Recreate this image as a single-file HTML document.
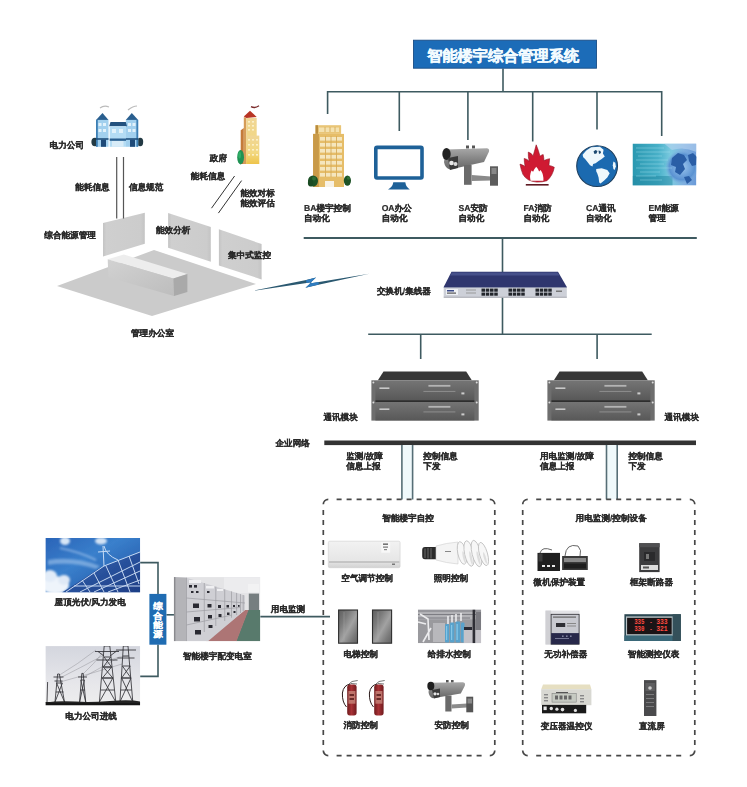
<!DOCTYPE html>
<html><head><meta charset="utf-8">
<style>
html,body{margin:0;padding:0;background:#fff;width:747px;height:787px;overflow:hidden}
svg{display:block;position:absolute;left:0;top:0}
text{font-family:"Liberation Sans",sans-serif;font-size:8.6px;fill:#2a2a2a;font-weight:bold;dominant-baseline:central;text-rendering:geometricPrecision}
#labels text{stroke:#2a2a2a;stroke-width:0.2px}
text.vt{font-size:8.7px;fill:#fff;stroke:#fff;stroke-width:0.25px}
text.title{font-size:15.2px;fill:#f2fbff;stroke:#f2fbff;stroke-width:0.35px}
text.dig{font-family:"Liberation Mono",monospace;font-size:7.6px;fill:#ff4a40}
</style></head><body>
<svg width="747" height="787" viewBox="0 0 747 787">
<!-- ===== LINES ===== -->
<g id="lines" stroke="#3e5a60" stroke-width="1.6" fill="none">
  <!-- title stem -->
  <path d="M503 68.5V91.8"/>
  <!-- top horizontal -->
  <path d="M327.6 91.8H662"/>
  <path d="M327.6 91V114M399.3 91V131M467.9 91V140M532.7 91V141.6M597 91V129.5M661.7 91V136"/>
  <!-- line under icons -->
  <path d="M303.7 238H696.8" stroke-width="2"/>
  <path d="M502.5 238V272M502.5 297.5V334.2"/>
  <path d="M368.2 334.2H651.7"/>
  <path d="M420.7 334.2V359M597.1 334.2V359"/>
</g>
<!-- ===== OFFICE SCENE ===== -->
<defs>
  <filter id="ftext" x="-2%" y="-2%" width="104%" height="104%"><feGaussianBlur stdDeviation="0.25"/></filter>
  <linearGradient id="gpanel" x1="0" y1="0" x2="1" y2="0">
    <stop offset="0" stop-color="#c4c4c4"/><stop offset="0.08" stop-color="#cfcfcf"/><stop offset="0.9" stop-color="#cccccc"/><stop offset="1" stop-color="#c4c4c4"/>
  </linearGradient>
  <linearGradient id="gfront" x1="0" y1="0" x2="1" y2="1">
    <stop offset="0" stop-color="#d2d2d2"/><stop offset="1" stop-color="#bdbdbd"/>
  </linearGradient>
</defs>
<g id="office">
  <polygon points="57,286 107.7,267.2 154,250 256,284 152,316" fill="#cbcbcb"/>
  <!-- white gap strip behind floor on right -->
  <polygon points="103,223 144.8,212.8 144.8,243.8 103,256.5" fill="url(#gpanel)"/>
  <polygon points="168.1,213.1 210.8,227.1 210.8,261.7 168.1,247.7" fill="url(#gpanel)"/>
  <polygon points="218.9,229.3 261.6,244 261.6,279.4 218.9,265.4" fill="url(#gpanel)"/>
  <!-- desk -->
  <polygon points="107.7,259.2 123.8,254.5 187.4,274 173.3,278.4" fill="#ededed"/>
  <polygon points="107.7,259.2 173.3,278.4 174,296 108.4,277.3" fill="url(#gfront)"/>
  <polygon points="173.3,278.4 187.4,274 187.4,292 174,296" fill="#a9a9a9"/>
  <!-- double lines -->
  <path d="M116.7 157V218.5M123.5 157V218.5" stroke="#555" stroke-width="1.2"/>
  <path d="M234.6 176L211.5 208.2M241.6 180.6L218.4 213.1" stroke="#333" stroke-width="1"/>
  <!-- lightning -->
  <path d="M253 290.8L305 280.3L316 277.5L309.5 283.6L319 281.9L369.3 273.8L319.5 284.6L305.5 287.8L311.5 282.2L305 283.2Z" fill="#2a5870"/>
  <path d="M306 280.2L316 277.5L309.8 283.5L318.5 282.1L318.8 284.6L305.5 287.8L311.8 282.1L306.5 283.1Z" fill="#2f7cc0"/>
</g>
<!-- ===== POWER COMPANY BUILDING ===== -->
<g id="powerco">
  <path d="M100 108q4-3 9-1M128 110q5-4 9-4" stroke="#bbb" stroke-width="1.2" fill="none"/>
  <!-- trees -->
  <ellipse cx="95" cy="142" rx="3.6" ry="4.2" fill="#233a44"/>
  <ellipse cx="140.2" cy="142" rx="3" ry="4.2" fill="#233a44"/>
  <!-- left tower -->
  <polygon points="96,120 102.5,113 108.5,120" fill="#2a5f8f"/>
  <rect x="96" y="119.9" width="12.5" height="26.9" fill="#a2d0ee"/>
  <rect x="96" y="119.9" width="1.8" height="26.9" fill="#3d7fb4"/>
  <rect x="98.5" y="123" width="3" height="3" fill="#e2f2fb"/><rect x="103" y="123" width="3" height="3" fill="#e2f2fb"/>
  <rect x="98.5" y="129" width="3" height="3" fill="#e2f2fb"/><rect x="103" y="129" width="3" height="3" fill="#e2f2fb"/>
  <rect x="96" y="138.2" width="12.5" height="1.6" fill="#1f4f7c"/>
  <rect x="101" y="139.6" width="5" height="7.2" fill="#1e4a78"/>
  <!-- right tower -->
  <polygon points="125.8,120 131.8,113 138.2,120" fill="#2a5f8f"/>
  <rect x="125.8" y="119.9" width="12.4" height="26.9" fill="#a2d0ee"/>
  <rect x="136.4" y="119.9" width="1.8" height="26.9" fill="#3d7fb4"/>
  <rect x="128" y="123" width="3" height="3" fill="#e2f2fb"/><rect x="132.5" y="123" width="3" height="3" fill="#e2f2fb"/>
  <rect x="128" y="129" width="3" height="3" fill="#e2f2fb"/><rect x="132.5" y="129" width="3" height="3" fill="#e2f2fb"/>
  <rect x="125.8" y="138.2" width="12.4" height="1.6" fill="#1f4f7c"/>
  <rect x="130" y="139.6" width="5" height="7.2" fill="#1e4a78"/>
  <!-- center block -->
  <polygon points="110.5,121.9 125.8,121.9 127,126.3 109.2,126.3" fill="#23527f"/>
  <rect x="109.7" y="126.3" width="16.3" height="20.5" fill="#b4dcf4"/>
  <rect x="112" y="129" width="4" height="4" fill="#e2f2fb"/><rect x="119" y="129" width="4" height="4" fill="#e2f2fb"/>
  <rect x="109.7" y="138.5" width="16.3" height="2.3" fill="#2a5f8f"/>
  <rect x="112" y="141" width="11.5" height="5.8" fill="#d8ecf8"/>
</g>
<!-- ===== GOV BUILDING ===== -->
<defs><linearGradient id="ggov" x1="0" y1="0" x2="0" y2="1"><stop offset="0" stop-color="#f0d696"/><stop offset="0.6" stop-color="#f2d880"/><stop offset="1" stop-color="#eec44a"/></linearGradient></defs>
<g id="gov">
  <path d="M251 106.6q4 2 8-0.8" stroke="#7a2a2a" stroke-width="1.4" fill="none"/>
  <polygon points="240.7,130.2 243.8,128 243.8,164 240.7,164" fill="#c47a3a"/>
  <polygon points="243.8,117 246.4,118 246.4,164 243.8,164" fill="#d59c58"/>
  <rect x="246.4" y="117.8" width="10.3" height="46.2" fill="url(#ggov)"/>
  <rect x="246.4" y="135.6" width="12.9" height="28.4" fill="url(#ggov)"/>
  <polygon points="243.8,116.4 250,110.7 256.7,116.9 246.4,118" fill="#b83424"/>
  <g fill="#fbf0c8">
    <rect x="248" y="121" width="2" height="1.6"/><rect x="252" y="121" width="2" height="1.6"/>
    <rect x="248" y="125" width="2" height="1.6"/><rect x="252" y="125" width="2" height="1.6"/>
    <rect x="248" y="129" width="2" height="1.6"/><rect x="252" y="129" width="2" height="1.6"/>
    <rect x="248" y="139" width="2" height="1.6"/><rect x="252" y="139" width="2" height="1.6"/><rect x="256" y="139" width="2" height="1.6"/>
    <rect x="248" y="144" width="2" height="1.6"/><rect x="252" y="144" width="2" height="1.6"/><rect x="256" y="144" width="2" height="1.6"/>
    <rect x="248" y="149" width="2" height="1.6"/><rect x="252" y="149" width="2" height="1.6"/><rect x="256" y="149" width="2" height="1.6"/>
    <rect x="248" y="154" width="2" height="1.6"/><rect x="252" y="154" width="2" height="1.6"/><rect x="256" y="154" width="2" height="1.6"/>
  </g>
  <ellipse cx="240.6" cy="157.2" rx="3.4" ry="7.2" fill="#1f9253"/>
  <ellipse cx="239.6" cy="155" rx="1.4" ry="3.5" fill="#2fae66"/>
</g>
<!-- ===== BA BUILDING ===== -->
<g id="ba">
  <rect x="315.5" y="125.2" width="25.6" height="8.7" fill="#e9c576"/>
  <rect x="315.5" y="125.2" width="2.5" height="8.7" fill="#b98c3e"/>
  <rect x="319" y="127.5" width="20" height="4.5" fill="#f4e2b0"/>
  <rect x="313.1" y="133.9" width="30.9" height="53.1" fill="#e6bd68"/>
  <rect x="313.1" y="133.9" width="5.8" height="53.1" fill="#c99a48"/>
  <g fill="#f5e6be">
    <rect x="320" y="137" width="22" height="3.6"/>
    <rect x="320" y="143" width="22" height="3.6"/>
    <rect x="320" y="149" width="22" height="3.6"/>
    <rect x="320" y="155" width="22" height="3.6"/>
    <rect x="320" y="161" width="22" height="3.6"/>
    <rect x="320" y="167" width="22" height="3.6"/>
    <rect x="320" y="173" width="22" height="3.6"/>
  </g>
  <path d="M325.5 136V177M331 136V177M336.5 136V177M325 127V132M330 127V132M335 127V132" stroke="#d6ac5a" stroke-width="0.9"/>
  <rect x="325" y="181" width="9" height="6" fill="#f8f2e4"/>
  <ellipse cx="313" cy="181" rx="5" ry="5.6" fill="#1d5226"/>
  <ellipse cx="310.5" cy="183" rx="2.6" ry="3.4" fill="#1a4a22"/>
  <ellipse cx="314" cy="178.5" rx="2" ry="2" fill="#2e6e34"/>
  <ellipse cx="347.4" cy="180.6" rx="3.6" ry="5.2" fill="#1d5226"/>
  <ellipse cx="348.5" cy="178" rx="1.6" ry="1.8" fill="#2e6e34"/>
</g>
<!-- ===== OA MONITOR ===== -->
<g id="oa">
  <rect x="375.8" y="147.4" width="46.2" height="30.6" rx="1.2" fill="#fff" stroke="#1e6198" stroke-width="3.6"/>
  <path d="M393.3 182.2H405.3Q406 187 409.8 189.4H388Q392.6 187 393.3 182.2Z" fill="#1e6198"/>
</g>
<!-- ===== SA CAMERA ===== -->
<defs>
  <linearGradient id="gcam" x1="0" y1="0" x2="0" y2="1">
    <stop offset="0" stop-color="#a8a8a8"/><stop offset="0.5" stop-color="#858585"/><stop offset="1" stop-color="#666"/>
  </linearGradient>
</defs>
<g id="sa">
  <rect x="466" y="145.5" width="3" height="3" fill="#555"/><rect x="472" y="145.5" width="3" height="3" fill="#555"/>
  <path d="M446 149.5L487 148.2Q490 149 488.8 152L484 162L450 169.5Q445 168 444 162Z" fill="url(#gcam)"/>
  <ellipse cx="446.5" cy="154" rx="4.2" ry="6" fill="#222"/>
  <path d="M448 158L458 156L458 168L450 170Z" fill="#3a3a3a"/>
  <circle cx="451.5" cy="163" r="2.3" fill="#e8e8e8"/><circle cx="455.5" cy="164" r="2" fill="#dcdcdc"/>
  <rect x="464" y="165" width="7.6" height="19.8" fill="#6a6a6a"/>
  <polygon points="471.6,175 491,176.5 491,180.5 471.6,181" fill="#8a8a8a"/>
  <rect x="490" y="166.3" width="8" height="19.4" fill="#5c5c5c"/>
  <rect x="491.5" y="168" width="5" height="6" fill="#888"/>
</g>
<!-- ===== FA FLAME ===== -->
<g id="fa">
  <path d="M536.9 182.1Q526.7 181.3 522.9 174.3Q521.0 169.9 520.0 164.1Q522.9 165.1 525.1 166.4Q524.2 162.2 524.2 158.4Q527.3 159.1 529.2 161.3Q528.0 156.5 528.3 152.1Q531.8 153.3 533.1 155.9Q535.0 149.5 536.2 144.8Q538.5 150.2 540.0 156.2Q542.0 154.6 543.2 154.6Q543.9 157.8 543.9 160.6Q547.0 159.1 549.6 158.7Q549.3 162.2 548.9 165.4Q552.1 166.0 554.3 167.3Q552.8 175.6 547.0 180.7Q542.6 182.2 536.9 182.1Z" fill="#cf1a32" stroke="#8e1424" stroke-width="0.6"/>
  <path d="M530.6 180.8Q529.2 175.6 531.5 170.5L533.1 171.8Q534.3 168.6 536.2 166.7Q538.1 168.6 539.1 171.4L540.7 169.9Q543.9 174.9 543.4 180.8Z" fill="#fff"/>
  <rect x="525.8" y="184" width="22.8" height="1.6" fill="#5e1a22"/>
</g>
<!-- ===== CA GLOBE ===== -->
<g id="ca">
  <circle cx="597.1" cy="166.1" r="20.4" fill="#1b6ab0" stroke="#1d3f5f" stroke-width="1.1"/>
  <path d="M582.6 154.7L586.3 150.4L591.2 147.3L599.9 146.7L603.6 149.8L602.9 153.5L604.8 156.5L601.7 159L598.6 160.9L595.6 163.3L593.1 163.9L592.5 166.4L590 165.2L587.5 162.1L585.1 159L583.2 157.2Z" fill="#eef8fc"/>
  <path d="M593.5 151.5l2-1.5 2 1 -1 2.5 -2 .5zM598.5 150.5l2 .5 .5 2 -2 1z" fill="#1d4a70"/>
  <path d="M596.2 168.9L601.7 168.2L607.3 170.1L609.7 173.2L607.3 177.5L604.2 180.6L600.5 183.6L599.2 182.4L598.6 177.5L597.4 173.8L596.2 171.3Z" fill="#eef8fc"/>
  <path d="M613.4 161.5L615.3 162.7L615.9 166.4L614.6 170.1L613.4 168.9L612.8 165.2Z" fill="#eef8fc"/>
</g>
<!-- ===== EM IMAGE ===== -->
<defs>
  <linearGradient id="gem" x1="0" y1="0" x2="1" y2="0">
    <stop offset="0" stop-color="#2a98b0"/><stop offset="0.4" stop-color="#48b0c8"/><stop offset="0.6" stop-color="#7ccae0"/><stop offset="0.8" stop-color="#80b0e0"/><stop offset="1" stop-color="#6a9ad8"/>
  </linearGradient>
  <radialGradient id="gemglobe" cx="0.5" cy="0.5" r="0.5">
    <stop offset="0" stop-color="#9cc6ee"/><stop offset="0.75" stop-color="#5a92d2"/><stop offset="1" stop-color="#7aaede" stop-opacity="0"/>
  </radialGradient>
</defs>
<g id="em">
  <defs><clipPath id="cpem"><rect x="632.5" y="143.5" width="63.9" height="42.1"/></clipPath></defs>
  <g clip-path="url(#cpem)">
  <rect x="632.5" y="143.5" width="63.9" height="42.1" fill="url(#gem)"/>
  <rect x="632.5" y="176" width="40" height="9.6" fill="#1f86a0" opacity="0.5"/>
  <circle cx="682" cy="167" r="17" fill="url(#gemglobe)"/>
  <path d="M672 158l6-5 6 2 3 5-4 4 2 5-5 6-5-3 1-5-5-2zM688 155l5-2 4 4-1 8-4 1-3-5zM684 177l5-1 3 4-5 4z" fill="#2a5ea6"/>
  <g stroke="#a8e2ee" stroke-width="0.9" opacity="0.45">
    <path d="M636 148H664M636 152H670M638 156H662M636 160H668M640 164H664M636 168H672M640 172H660M636 176H656M640 180H662"/>
  </g>
  <path d="M664 143.5L696.4 143.5L696.4 152Q684 146 672 150Z" fill="#b8d4f0" opacity="0.6"/>
  </g>
</g>
<!-- ===== SWITCH ===== -->
<g id="switch">
  <polygon points="451.5,271.8 558,271.8 566.8,287 443.7,287" fill="#2f366e"/>
  <polygon points="452,272.4 557.5,272.4 559.5,275.5 450,275.5" fill="#46508a"/>
  <rect x="443.7" y="287" width="123.1" height="10.5" fill="#cdd0d8"/>
  <rect x="443.7" y="287" width="123.1" height="0.8" fill="#7a80a0"/>
  <rect x="443.7" y="296.8" width="123.1" height="0.8" fill="#9a9ca4"/>
  <rect x="446" y="289" width="12" height="6" fill="#eef0f4"/>
  <rect x="447" y="290" width="7" height="1.5" fill="#3a4a8a"/><rect x="447" y="292.5" width="9" height="1.2" fill="#555"/>
  <g fill="#23262c"><rect x="481.50" y="288.6" width="3.5" height="3.1"/><rect x="485.75" y="288.6" width="3.5" height="3.1"/><rect x="490.00" y="288.6" width="3.5" height="3.1"/><rect x="494.25" y="288.6" width="3.5" height="3.1"/><rect x="481.50" y="292.6" width="3.5" height="3.1"/><rect x="485.75" y="292.6" width="3.5" height="3.1"/><rect x="490.00" y="292.6" width="3.5" height="3.1"/><rect x="494.25" y="292.6" width="3.5" height="3.1"/><rect x="508.50" y="288.6" width="3.5" height="3.1"/><rect x="512.75" y="288.6" width="3.5" height="3.1"/><rect x="517.00" y="288.6" width="3.5" height="3.1"/><rect x="521.25" y="288.6" width="3.5" height="3.1"/><rect x="508.50" y="292.6" width="3.5" height="3.1"/><rect x="512.75" y="292.6" width="3.5" height="3.1"/><rect x="517.00" y="292.6" width="3.5" height="3.1"/><rect x="521.25" y="292.6" width="3.5" height="3.1"/><rect x="535.50" y="288.6" width="3.5" height="3.1"/><rect x="539.75" y="288.6" width="3.5" height="3.1"/><rect x="544.00" y="288.6" width="3.5" height="3.1"/><rect x="548.25" y="288.6" width="3.5" height="3.1"/><rect x="535.50" y="292.6" width="3.5" height="3.1"/><rect x="539.75" y="292.6" width="3.5" height="3.1"/><rect x="544.00" y="292.6" width="3.5" height="3.1"/><rect x="548.25" y="292.6" width="3.5" height="3.1"/></g>
  <rect x="466" y="289.5" width="10" height="1" fill="#999"/><rect x="466" y="292.5" width="10" height="1" fill="#999"/>
  <rect x="556" y="290.5" width="6" height="1.5" fill="#777"/>
</g>
<!-- ===== COMM MODULES ===== -->
<defs>
  <linearGradient id="gmod" x1="0" y1="0" x2="0" y2="1">
    <stop offset="0" stop-color="#747474"/><stop offset="1" stop-color="#585858"/>
  </linearGradient>
  <g id="module">
    <polygon points="14.1,0 96.8,0 102.4,8.9 8.5,8.9" fill="#383838"/>
    <rect x="2" y="8.9" width="107.3" height="40.3" fill="#6e6e6e"/>
    <rect x="6" y="9.6" width="99" height="19.2" fill="url(#gmod)"/>
    <rect x="6" y="30.6" width="99" height="18.4" fill="url(#gmod)"/>
    <rect x="6" y="28.8" width="99" height="1.8" fill="#2e2e2e"/>
    <rect x="59" y="13.5" width="22" height="1.8" fill="#b4b4b4"/>
    <rect x="54" y="19.5" width="32" height="1" fill="#8e8e8e"/>
    <rect x="59" y="34.5" width="22" height="1.8" fill="#b4b4b4"/>
    <rect x="54" y="40" width="32" height="1" fill="#8e8e8e"/>
    <rect x="10" y="16" width="10" height="1.6" fill="#c8c8c8"/>
    <rect x="10" y="37" width="10" height="1.6" fill="#c8c8c8"/>
    <rect x="92" y="21" width="3" height="2" fill="#ccc"/><rect x="92" y="42" width="3" height="2" fill="#ccc"/>
    <circle cx="4" cy="11" r="1" fill="#ddd"/><circle cx="107.3" cy="11" r="1" fill="#ddd"/>
    <circle cx="4" cy="31" r="1" fill="#ddd"/><circle cx="107.3" cy="31" r="1" fill="#ddd"/>
  </g>
</defs>
<use href="#module" x="369.4" y="371.4"/>
<use href="#module" x="545.4" y="371.4"/>
<!-- enterprise bus -->
<rect x="324.3" y="440.5" width="371.7" height="4.6" fill="#333"/>
<rect x="402.6" y="445" width="9.4" height="54" fill="#f0f9fb"/>
<rect x="607.2" y="445" width="9.4" height="54" fill="#f0f9fb"/>
<g stroke="#566e76" stroke-width="1.6">
  <path d="M401.9 445V499.5M412.6 445V499.5M606.5 445V499.5M617.2 445V499.5"/>
</g>
<!-- ===== DASHED BOXES ===== -->
<path fill="none" stroke="#474747" stroke-width="1.7" d="M323.3 504.3A5 5 0 0 1 328.3 499.3M489.8 499.3A5 5 0 0 1 494.8 504.3M494.8 750.6A5 5 0 0 1 489.8 755.6M328.3 755.6A5 5 0 0 1 323.3 750.6M336.6 499.3H341.6M346.6 499.3H351.6M356.6 499.3H361.6M366.6 499.3H371.6M376.6 499.3H381.6M386.6 499.3H391.6M396.6 499.3H401.6M406.6 499.3H411.6M416.6 499.3H421.6M426.6 499.3H431.6M436.6 499.3H441.6M446.6 499.3H451.6M456.6 499.3H461.6M466.6 499.3H471.6M476.6 499.3H481.6M336.6 755.6H341.6M346.6 755.6H351.6M356.6 755.6H361.6M366.6 755.6H371.6M376.6 755.6H381.6M386.6 755.6H391.6M396.6 755.6H401.6M406.6 755.6H411.6M416.6 755.6H421.6M426.6 755.6H431.6M436.6 755.6H441.6M446.6 755.6H451.6M456.6 755.6H461.6M466.6 755.6H471.6M476.6 755.6H481.6M323.3 510.0V515.0M323.3 520.0V525.0M323.3 530.0V535.0M323.3 540.0V545.0M323.3 550.0V555.0M323.3 560.0V565.0M323.3 570.0V575.0M323.3 580.0V585.0M323.3 590.0V595.0M323.3 600.0V605.0M323.3 610.0V615.0M323.3 620.0V625.0M323.3 630.0V635.0M323.3 640.0V645.0M323.3 650.0V655.0M323.3 660.0V665.0M323.3 670.0V675.0M323.3 680.0V685.0M323.3 690.0V695.0M323.3 700.0V705.0M323.3 710.0V715.0M323.3 720.0V725.0M323.3 730.0V735.0M323.3 740.0V745.0M494.8 510.0V515.0M494.8 520.0V525.0M494.8 530.0V535.0M494.8 540.0V545.0M494.8 550.0V555.0M494.8 560.0V565.0M494.8 570.0V575.0M494.8 580.0V585.0M494.8 590.0V595.0M494.8 600.0V605.0M494.8 610.0V615.0M494.8 620.0V625.0M494.8 630.0V635.0M494.8 640.0V645.0M494.8 650.0V655.0M494.8 660.0V665.0M494.8 670.0V675.0M494.8 680.0V685.0M494.8 690.0V695.0M494.8 700.0V705.0M494.8 710.0V715.0M494.8 720.0V725.0M494.8 730.0V735.0M494.8 740.0V745.0M522.7 504.3A5 5 0 0 1 527.7 499.3M689.8 499.3A5 5 0 0 1 694.8 504.3M694.8 750.6A5 5 0 0 1 689.8 755.6M527.7 755.6A5 5 0 0 1 522.7 750.6M536.2 499.3H541.2M546.2 499.3H551.2M556.2 499.3H561.2M566.2 499.3H571.2M576.2 499.3H581.2M586.2 499.3H591.2M596.2 499.3H601.2M606.2 499.3H611.2M616.2 499.3H621.2M626.2 499.3H631.2M636.2 499.3H641.2M646.2 499.3H651.2M656.2 499.3H661.2M666.2 499.3H671.2M676.2 499.3H681.2M536.2 755.6H541.2M546.2 755.6H551.2M556.2 755.6H561.2M566.2 755.6H571.2M576.2 755.6H581.2M586.2 755.6H591.2M596.2 755.6H601.2M606.2 755.6H611.2M616.2 755.6H621.2M626.2 755.6H631.2M636.2 755.6H641.2M646.2 755.6H651.2M656.2 755.6H661.2M666.2 755.6H671.2M676.2 755.6H681.2M522.7 510.0V515.0M522.7 520.0V525.0M522.7 530.0V535.0M522.7 540.0V545.0M522.7 550.0V555.0M522.7 560.0V565.0M522.7 570.0V575.0M522.7 580.0V585.0M522.7 590.0V595.0M522.7 600.0V605.0M522.7 610.0V615.0M522.7 620.0V625.0M522.7 630.0V635.0M522.7 640.0V645.0M522.7 650.0V655.0M522.7 660.0V665.0M522.7 670.0V675.0M522.7 680.0V685.0M522.7 690.0V695.0M522.7 700.0V705.0M522.7 710.0V715.0M522.7 720.0V725.0M522.7 730.0V735.0M522.7 740.0V745.0M694.8 510.0V515.0M694.8 520.0V525.0M694.8 530.0V535.0M694.8 540.0V545.0M694.8 550.0V555.0M694.8 560.0V565.0M694.8 570.0V575.0M694.8 580.0V585.0M694.8 590.0V595.0M694.8 600.0V605.0M694.8 610.0V615.0M694.8 620.0V625.0M694.8 630.0V635.0M694.8 640.0V645.0M694.8 650.0V655.0M694.8 660.0V665.0M694.8 670.0V675.0M694.8 680.0V685.0M694.8 690.0V695.0M694.8 700.0V705.0M694.8 710.0V715.0M694.8 720.0V725.0M694.8 730.0V735.0M694.8 740.0V745.0"/>
<!-- ===== LEFT BOTTOM CONNECTORS ===== -->
<g stroke="#3e5a60" stroke-width="1.6" fill="none">
  <path d="M140.2 562.6H158V594"/>
  <path d="M158 644.6V676.4H140.2"/>
  <path d="M166.4 614.8H174"/>
  <path d="M260.3 616.6H330"/>
</g>
<rect x="149.4" y="593.9" width="17" height="50.8" fill="#1f6cb2"/>
<g><text class="vt" transform="translate(153.2 606.4) scale(1.1 1)" x="0" y="0">综</text><text class="vt" transform="translate(153.2 615.6) scale(1.1 1)" x="0" y="0">合</text><text class="vt" transform="translate(153.2 624.8) scale(1.1 1)" x="0" y="0">能</text><text class="vt" transform="translate(153.2 634.0) scale(1.1 1)" x="0" y="0">源</text></g>
<!-- ===== SOLAR ===== -->
<defs>
  <filter id="fblur" x="-20%" y="-20%" width="140%" height="140%"><feGaussianBlur stdDeviation="1.2"/></filter>
  <filter id="fsoft" x="-5%" y="-5%" width="110%" height="110%"><feGaussianBlur stdDeviation="0.45"/></filter>
  <linearGradient id="gsky" x1="0" y1="0" x2="1" y2="1">
    <stop offset="0" stop-color="#2a64b8"/><stop offset="0.4" stop-color="#3a80cc"/><stop offset="1" stop-color="#1c4c9e"/>
  </linearGradient>
  <linearGradient id="gpv" x1="0" y1="0" x2="1" y2="1">
    <stop offset="0" stop-color="#3466b4"/><stop offset="1" stop-color="#1e3e86"/>
  </linearGradient>
  <clipPath id="cpsolar"><rect x="45.4" y="538" width="94.8" height="54.4"/></clipPath>
  <clipPath id="cptower"><rect x="45.4" y="646.1" width="94.8" height="59.4"/></clipPath>
  <clipPath id="cpgear"><rect x="173.8" y="577.1" width="86.5" height="64.2"/></clipPath>
</defs>
<g clip-path="url(#cpsolar)"><g filter="url(#fsoft)">
  <rect x="45.4" y="538" width="94.8" height="54.4" fill="url(#gsky)"/>
  <g filter="url(#fblur)">
    <path d="M48 560Q75 556 100 566L96 569Q72 561 48 565Z" fill="#8fb8e6" opacity="0.7"/>
    <path d="M60 548Q80 552 96 560" stroke="#a6c8ee" stroke-width="2" fill="none" opacity="0.6"/>
    <ellipse cx="55" cy="585" rx="14" ry="9" fill="#eef4fb"/>
    <ellipse cx="50" cy="576" rx="7" ry="6" fill="#e2ecf8"/>
    <ellipse cx="64" cy="580" rx="6" ry="5" fill="#dfe9f6"/>
    <ellipse cx="65" cy="541" rx="5" ry="4" fill="#d8e6f6"/>
    <ellipse cx="101" cy="541" rx="6" ry="3.5" fill="#d2e2f4"/>
  </g>
  <polygon points="62,592.4 100,568 140.2,552 140.2,592.4" fill="url(#gpv)"/>
  <g stroke="#d6e6fa" stroke-width="1" opacity="0.9" fill="none">
    <path d="M66 592L104 566L140 552M80 592L140 562M94 592L140 571M108 592L140 580M74 586L140 586"/>
    <path d="M82 580L90 592M94 573L104 592M106 566L118 592M118 560L130 592M129 556L139 584"/>
    <path d="M103 546L104 566M98 552L110 551M104 546Q106 555 118 560"/>
  </g>
</g></g>
<!-- ===== POWER TOWERS ===== -->
<defs>
  <linearGradient id="gsky2" x1="0" y1="0" x2="0" y2="1">
    <stop offset="0" stop-color="#d4d6de"/><stop offset="0.6" stop-color="#e6e6ea"/><stop offset="1" stop-color="#eeeeee"/>
  </linearGradient>
</defs>
<g clip-path="url(#cptower)"><g filter="url(#fsoft)">
  <rect x="45.4" y="646.1" width="94.8" height="59.4" fill="url(#gsky2)"/>
  <g stroke="#8c8c94" stroke-width="0.45" fill="none">
    <path d="M58 676Q78 664 96 650M58 679Q80 668 104 655M82 675Q94 664 104 651M82 678Q100 668 118 658M110 652Q118 650 124 650M110 660Q120 656 128 656M60 682Q90 674 122 664"/>
  </g>
  <g stroke="#333338" stroke-width="0.85" fill="none">
    <path d="M99.4 702L104.2 646L109.8 646L115.8 702"/>
    <path d="M101 690H114.2M102.4 678H112.8M103.3 667H111.6M104 657H110.6M99.4 702L112.8 678L102.4 678L111.6 667L103.3 667L110.6 657M115.8 702L102.4 678M112.8 678L103.3 667M111.6 667L104 657"/>
    <path d="M95 651.5H119M96.5 660H117.5M98 651.5L104 656M116 651.5L110 656"/>
    <path d="M119.9 702L123.3 646L128 646L132.8 702"/>
    <path d="M120.8 690H131.8M121.6 678H131M122.4 666H130.2M123 656H129M119.9 702L131 678L121.6 678L130.2 666M132.8 702L121.6 678M131 678L122.4 666"/>
    <path d="M116 650H136M117.5 658H134.5"/>
    <path d="M55 702L57.6 674L59.4 674L64.5 702M55.8 692H63.6M56.6 683H62.4M55 702L62.4 683M64.5 702L56.6 683M53.5 677H63.5M54.5 681H62.5"/>
    <path d="M79.6 702L81.8 673.4L83.2 673.4L85.7 702M80.2 690H85M80.8 680H84.4M79.6 702L84.4 680M85.7 702L80.8 680M78 677H87"/>
    <path d="M47 702L47.6 682"/>
  </g>
  <rect x="45.4" y="702" width="94.8" height="3.5" fill="#161616"/>
  <path d="M45.4 702.4Q60 700.5 75 701.6T110 701T140 701.5V703H45.4Z" fill="#202020"/>
</g></g>
<!-- ===== SWITCHGEAR ROOM ===== -->
<g clip-path="url(#cpgear)"><g filter="url(#fsoft)">
  <rect x="173.8" y="577.1" width="86.5" height="64.2" fill="#e4e4e6"/>
  <rect x="224" y="577.1" width="36.3" height="16" fill="#ececee"/>
  <rect x="248" y="584" width="11" height="8" fill="#f4f4f4" opacity="0.8"/>
  <rect x="248.8" y="593.6" width="10.2" height="16.4" fill="#767e80"/>
  <polygon points="236,641.3 248,610 260.3,610 260.3,641.3" fill="#587a6c"/>
  <polygon points="206,641.3 245,610 248.5,610 236.5,641.3" fill="#ad7474"/>
  <polygon points="186.5,577.7 245,595.5 245,610 208,641.3 186.5,641.3" fill="#cfcfd4"/>
  <polygon points="173.8,577.1 186.5,577.7 186.5,641.3 173.8,641.3" fill="#b4b4b8"/>
  <rect x="173.8" y="577.1" width="1.6" height="64.2" fill="#8a8a8e"/>
  <g stroke="#9c9ca2" stroke-width="0.7" fill="none">
    <path d="M186.5 577.7V641.3M204.3 583V632M215.8 586.6V626M224.7 589.3V621M231.5 591.4V617.7M236.6 592.9V615M240.5 594.1V613M243.2 595V611"/>
    <path d="M186.5 598L245 603M186.5 612L240 607.5M186.5 625L232 615"/>
  </g>
  <g fill="#2c2c32">
    <rect x="189" y="585" width="3" height="2.6"/><rect x="194" y="585" width="3" height="2.6"/>
    <rect x="191" y="591" width="2.5" height="2"/><rect x="196" y="591" width="2.5" height="2"/>
    <rect x="193" y="603.5" width="6" height="4.5"/>
    <rect x="194" y="617" width="6" height="4.5"/>
    <rect x="195" y="630" width="6" height="4.5"/>
    <rect x="207" y="591" width="2.5" height="2"/>
    <rect x="207.5" y="604" width="4" height="3.5"/><rect x="208" y="615" width="4" height="3.5"/><rect x="208.5" y="625" width="4" height="3"/>
    <rect x="218" y="605" width="3" height="3"/><rect x="218.5" y="614" width="3" height="3"/>
    <rect x="226.5" y="605" width="2.5" height="2.5"/><rect x="227" y="612.5" width="2.5" height="2.5"/>
    <rect x="233" y="605" width="2" height="2"/><rect x="233.5" y="611" width="2" height="2"/>
    <rect x="238" y="605" width="1.6" height="1.8"/>
  </g>
  <g fill="#f0f0f2"><rect x="189" y="580" width="12" height="3"/><rect x="206" y="586" width="8" height="2.5"/><rect x="217" y="589" width="6" height="2"/></g>
</g></g>
<!-- ===== LEFT DASHED BOX ITEMS ===== -->
<defs>
  <linearGradient id="gac" x1="0" y1="0" x2="0" y2="1">
    <stop offset="0" stop-color="#f2f2f2"/><stop offset="0.75" stop-color="#e6e6e6"/><stop offset="1" stop-color="#d2d2d2"/>
  </linearGradient>
  <linearGradient id="gdoor" x1="0" y1="0" x2="1" y2="1">
    <stop offset="0" stop-color="#5e5e5e"/><stop offset="0.3" stop-color="#7c7c7c"/><stop offset="0.55" stop-color="#a2a2a2"/><stop offset="0.8" stop-color="#7a7a7a"/><stop offset="1" stop-color="#626262"/>
  </linearGradient>
  <linearGradient id="gext" x1="0" y1="0" x2="1" y2="0">
    <stop offset="0" stop-color="#6e1a1c"/><stop offset="0.45" stop-color="#a83236"/><stop offset="1" stop-color="#701a1e"/>
  </linearGradient>
</defs>
<!-- AC -->
<rect x="328.3" y="541.2" width="71.8" height="26.5" rx="1.5" fill="url(#gac)" stroke="#cfcfcf" stroke-width="0.6"/>
<rect x="329" y="561.3" width="70.4" height="1.4" fill="#b8b8b8"/>
<rect x="381.3" y="542" width="8.9" height="10.7" fill="#f8f8f8"/>
<rect x="383" y="543.5" width="5" height="1.3" fill="#555"/><rect x="383" y="546.5" width="5" height="1.2" fill="#777"/><rect x="384" y="549" width="3" height="1.2" fill="#888"/>
<rect x="392" y="563.5" width="3" height="1.5" fill="#777"/>
<!-- bulb -->
<path d="M422.2 550Q422.2 547 425 547L436 547L436 559.3L425 559.3Q422.2 559.3 422.2 556Z" fill="#2a2a2a"/>
<path d="M425 548.5V558M428 548V558.5M431 548V558.5" stroke="#888" stroke-width="0.7"/>
<path d="M436 546Q446 543 458 542L458 564Q446 563 436 560Z" fill="#f4f4f4" stroke="#cfcfcf" stroke-width="0.6"/>
<rect x="445" y="551" width="6" height="1" fill="#888"/>
<g fill="#f7f7f7" stroke="#b4b4b4" stroke-width="0.7">
  <ellipse cx="462" cy="553" rx="4.2" ry="11.5" transform="rotate(-12 462 553)"/>
  <ellipse cx="469" cy="553.5" rx="4.4" ry="13" transform="rotate(-12 469 553.5)"/>
  <ellipse cx="476.5" cy="553.5" rx="4.4" ry="13.5" transform="rotate(-14 476.5 553.5)"/>
  <ellipse cx="483.5" cy="554" rx="4" ry="12" transform="rotate(-16 483.5 554)"/>
</g>
<g fill="#d8d8d8" opacity="0.8">
  <ellipse cx="464" cy="557" rx="1.2" ry="6" transform="rotate(-12 464 557)"/>
  <ellipse cx="471" cy="558" rx="1.2" ry="7" transform="rotate(-12 471 558)"/>
  <ellipse cx="478.5" cy="558" rx="1.2" ry="7" transform="rotate(-14 478.5 558)"/>
  <ellipse cx="485" cy="558" rx="1.1" ry="6" transform="rotate(-16 485 558)"/>
</g>
<!-- elevator -->
<rect x="338.6" y="610" width="18.9" height="33.2" fill="url(#gdoor)" stroke="#2e2e2e" stroke-width="1.1"/>
<rect x="372.5" y="610" width="19.1" height="33.2" fill="url(#gdoor)" stroke="#2e2e2e" stroke-width="1.1"/>
<path d="M344 612V641M378 612V641" stroke="#b0b0b0" stroke-width="0.6" opacity="0.6"/>
<!-- water -->
<defs><clipPath id="cpwater"><rect x="417.9" y="609.4" width="63.3" height="33.8"/></clipPath></defs>
<g clip-path="url(#cpwater)"><g filter="url(#fsoft)">
  <rect x="417.9" y="609.4" width="63.3" height="33.8" fill="#9a9a9e"/>
  <rect x="417.9" y="609.4" width="63.3" height="10" fill="#b2b2b6"/>
  <g stroke="#707076" stroke-width="0.8"><path d="M418 611H481M418 614.5H481M418 618H470"/></g>
  <rect x="433" y="623" width="12" height="19" fill="#b8b8bc"/>
  <g stroke="#ececee" stroke-width="1.6" fill="none">
    <path d="M420 614L428 619L429 640M423 642L431 628M418 622L426 624"/>
    <path d="M448 616V624M452 615V623M456 614V622M461 613V621"/>
  </g>
  <g fill="#58a2cc">
    <rect x="445" y="624" width="4.2" height="18.5" rx="1"/><rect x="450" y="622.5" width="4.5" height="20" rx="1"/><rect x="455.5" y="621.5" width="4.8" height="21" rx="1"/><rect x="461" y="622.5" width="3.5" height="20" rx="1"/>
  </g>
  <g fill="#8ed0f0" opacity="0.8"><rect x="446" y="626" width="1.2" height="14"/><rect x="451" y="625" width="1.2" height="15"/><rect x="456.5" y="624" width="1.3" height="16"/></g>
  <rect x="463.7" y="630" width="17.3" height="13" fill="#c4c2c8"/>
  <rect x="472.6" y="609.4" width="2.6" height="33.8" fill="#2e2e34"/>
  <rect x="476" y="612" width="5" height="18" fill="#7a7a80"/>
  <rect x="464" y="627" width="8" height="3" fill="#2a2a30"/>
</g></g>
<!-- fire extinguishers -->
<g id="ext1">
  <path d="M350.5 684Q343.5 685 342.4 693Q342 702 346.5 707" stroke="#2a1a1a" stroke-width="1" fill="none"/>
  <path d="M349 684L352 681.5L357.7 680.5M351 683.5L357 684" stroke="#666" stroke-width="0.9" fill="none"/>
  <rect x="347.2" y="684.6" width="9.4" height="30.8" rx="2.6" fill="url(#gext)"/>
  <rect x="348.4" y="691" width="7" height="12.7" fill="#c8867a" opacity="0.8"/>
  <rect x="349.5" y="694" width="4.5" height="2" fill="#6a2a28"/><rect x="349.5" y="698" width="4.5" height="2" fill="#6a2a28"/>
</g>
<use href="#ext1" x="27" y="0"/>
<!-- camera 2 -->
<g id="sa2">
  <rect x="446" y="680" width="2.6" height="2.6" fill="#555"/><rect x="451" y="680" width="2.6" height="2.6" fill="#555"/>
  <path d="M430 682.8L463 682.2Q466 683 464.7 686L460.8 693.6L433 698.3Q429 697 428.5 692Z" fill="url(#gcam)"/>
  <ellipse cx="430.8" cy="686" rx="3.5" ry="4.2" fill="#1e1e1e"/>
  <path d="M432 690L440 688.5L440 697L434 698.5Z" fill="#3a3a3a"/>
  <circle cx="435" cy="693.8" r="1.6" fill="#e6e6e6"/><circle cx="438" cy="694" r="1.3" fill="#d8d8d8"/>
  <rect x="445.3" y="695.5" width="6.2" height="16" fill="#6a6a6a"/>
  <polygon points="451.5,704.5 467,703.5 467,707.5 451.5,708.5" fill="#8c8c8c"/>
  <rect x="466.3" y="696.7" width="6.9" height="15.6" fill="#555"/>
  <rect x="467.5" y="698.5" width="4.5" height="5" fill="#8a8a8a"/>
</g>
<!-- ===== RIGHT DASHED BOX ITEMS ===== -->
<!-- micro protection -->
<path d="M540 553Q542 546 552 550M565 556Q566 543 578 546Q582 550 580 556" stroke="#555" stroke-width="0.9" fill="none"/>
<rect x="537.5" y="552.9" width="22.5" height="18.1" fill="#1e1e1e"/>
<rect x="538.5" y="553.5" width="4" height="8" fill="#3a3a3a"/>
<g fill="#e8e8e8"><rect x="542" y="565" width="3" height="2"/><rect x="547" y="565" width="3" height="2"/><rect x="552" y="565" width="3" height="2"/></g>
<rect x="562.1" y="556" width="25.7" height="14" fill="#3a3a3a"/>
<rect x="564" y="558" width="22" height="4" fill="#8a8a8a"/>
<rect x="564" y="563.5" width="22" height="5" fill="#1e1e1e"/>
<!-- breaker -->
<rect x="639.2" y="543.2" width="20.4" height="28.9" fill="#3c3c3e"/>
<rect x="639.2" y="543.2" width="20.4" height="4" fill="#505052"/>
<rect x="644" y="552" width="11" height="9" fill="#2a2a2c"/>
<rect x="646" y="554" width="3" height="5" fill="#777"/>
<rect x="641" y="565" width="17" height="5" fill="#dcdcdc"/>
<rect x="643" y="566.5" width="6" height="2" fill="#555"/>
<!-- reactive compensator -->
<rect x="545.5" y="610.6" width="34" height="33.9" fill="#e2e2e6"/>
<rect x="545.5" y="610.6" width="5.6" height="33.9" fill="#d0d0d4"/>
<rect x="551.1" y="614.3" width="28" height="29.9" fill="#c8c9d0" stroke="#2a2a30" stroke-width="0.8"/>
<rect x="553" y="616.5" width="23" height="1.2" fill="#666"/>
<rect x="556" y="623" width="9.2" height="4" fill="#2e2e34"/>
<rect x="567" y="623" width="9" height="1" fill="#888"/><rect x="567" y="625.5" width="9" height="1" fill="#888"/>
<rect x="551.1" y="633.1" width="28" height="11.1" fill="#27284a"/>
<g fill="#8a8ca8"><rect x="562" y="635.5" width="1.6" height="1.4"/><rect x="566" y="635.5" width="1.6" height="1.4"/><rect x="570" y="635.5" width="1.6" height="1.4"/><rect x="555" y="638" width="14" height="0.8"/></g>
<!-- smart meter -->
<rect x="624.4" y="614.2" width="56.4" height="26.8" fill="#2c4852"/>
<rect x="626" y="616.4" width="47" height="19.6" fill="#b8c2c6"/>
<rect x="627.1" y="617.8" width="44.6" height="16.4" fill="#1a1416"/>
<rect x="672.6" y="614.2" width="8.2" height="26.8" fill="#34505a"/>
<rect x="624.4" y="635.4" width="48.2" height="5.6" fill="#3a6878"/>
<g>
  <text class="dig" x="634.2" y="622.7" textLength="10.2" lengthAdjust="spacingAndGlyphs">335</text><text class="dig" x="656.2" y="622.7" textLength="11.4" lengthAdjust="spacingAndGlyphs">333</text>
  <text class="dig" x="634.2" y="629.6" textLength="10.2" lengthAdjust="spacingAndGlyphs">330</text><text class="dig" x="656.2" y="629.6" textLength="11.4" lengthAdjust="spacingAndGlyphs">321</text>
</g>
<rect x="650.3" y="622" width="1.8" height="0.9" fill="#d04040"/><rect x="650.3" y="629" width="1.8" height="0.9" fill="#d04040"/>
<!-- transformer temp controller -->
<polygon points="543,684.6 590,684.6 591.4,689.2 541.2,689.2" fill="#e6dfc2"/>
<rect x="541.2" y="689.2" width="50.2" height="16" fill="#d8d8d2"/>
<rect x="552" y="693.3" width="24.2" height="8.8" fill="#c6cac2" stroke="#777" stroke-width="0.5"/>
<rect x="556" y="692" width="12" height="1" fill="#555"/>
<g fill="#666"><rect x="555" y="695.5" width="3" height="4"/><rect x="559.5" y="695.5" width="3" height="4"/><rect x="564" y="695.5" width="3" height="4"/><rect x="568.5" y="695.5" width="3" height="4"/></g>
<g fill="#888"><rect x="544" y="694" width="4" height="1.4"/><rect x="544" y="697" width="4" height="1.4"/><rect x="544" y="700" width="4" height="1.4"/><rect x="580" y="695" width="4" height="1.4"/><rect x="580" y="698" width="4" height="1.4"/><rect x="580" y="701" width="4" height="1.4"/></g>
<rect x="542" y="704.9" width="44.2" height="8.4" fill="#1a1a1a"/>
<rect x="543.5" y="706.5" width="3.2" height="3.6" fill="#e8e8e8"/>
<g fill="#e4e4e4"><circle cx="551.3" cy="708.5" r="1.7"/><circle cx="556.9" cy="709.2" r="1.6"/><circle cx="562.5" cy="709.6" r="1.8"/><circle cx="575.4" cy="710.4" r="1.6"/></g>
<!-- DC screen -->
<rect x="644" y="680.1" width="12.4" height="35.9" fill="#4a4a4c"/>
<rect x="645.5" y="683" width="9.4" height="8" fill="#5e5e60"/>
<circle cx="650" cy="688" r="1.8" fill="#ccc"/>
<g fill="#7a7a7c"><rect x="646" y="694" width="8" height="1"/><rect x="646" y="698" width="8" height="1"/><rect x="646" y="702" width="8" height="1"/><rect x="646" y="706" width="8" height="1"/></g>
<!-- ===== TITLE ===== -->
<rect x="413.5" y="40.2" width="183" height="28" fill="#1c6cb8" stroke="#1a4e86" stroke-width="0.9"/>
<text class="title" x="427.2" y="56">智能楼宇综合管理系统</text>

<!-- ===== TOP ICON LABELS ===== -->
















<!-- left -->












<!-- bottom -->


















<g id="labels" filter="url(#ftext)">
<text x="304" y="207.5">BA楼宇控制</text>
<text x="304" y="217.6">自动化</text>
<text x="381.7" y="207.5">OA办公</text>
<text x="381.7" y="217.6">自动化</text>
<text x="458.5" y="207.5">SA安防</text>
<text x="458.5" y="217.6">自动化</text>
<text x="523.5" y="207.5">FA消防</text>
<text x="523.5" y="217.6">自动化</text>
<text x="586" y="207.5">CA通讯</text>
<text x="586" y="217.6">自动化</text>
<text x="648.6" y="207.5">EM能源</text>
<text x="648.6" y="217.6">管理</text>
<text x="377" y="291">交换机/集线器</text>
<text x="323.4" y="416.7">通讯模块</text>
<text x="664.6" y="416.7">通讯模块</text>
<text x="275.5" y="443.2">企业网络</text>
<text x="346.2" y="455.8">监测/故障</text>
<text x="346.2" y="465.8">信息上报</text>
<text x="423.3" y="455.8">控制信息</text>
<text x="423.3" y="465.8">下发</text>
<text x="540" y="455.8">用电监测/故障</text>
<text x="540" y="465.8">信息上报</text>
<text x="628.4" y="455.8">控制信息</text>
<text x="628.4" y="465.8">下发</text>
<text x="49.6" y="144.7">电力公司</text>
<text x="75.3" y="186.7">能耗信息</text>
<text x="128.9" y="186.7">信息规范</text>
<text x="44.3" y="235.3">综合能源管理</text>
<text x="156" y="229.5">能效分析</text>
<text x="228" y="255.4">集中式监控</text>
<text x="131" y="333">管理办公室</text>
<text x="209.8" y="157.8">政府</text>
<text x="190.8" y="176">能耗信息</text>
<text x="240.4" y="193.3">能效对标</text>
<text x="240.4" y="203.2">能效评估</text>
<text x="382.3" y="518.1">智能楼宇自控</text>
<text x="575.6" y="518.1">用电监测/控制设备</text>
<text x="341.3" y="578.4">空气调节控制</text>
<text x="433.7" y="578.4">照明控制</text>
<text x="343.5" y="653.5">电梯控制</text>
<text x="427.8" y="653.5">给排水控制</text>
<text x="343.5" y="725">消防控制</text>
<text x="434.5" y="725">安防控制</text>
<text x="533.6" y="581.6">微机保护装置</text>
<text x="630" y="581.6">框架断路器</text>
<text x="544.3" y="654">无功补偿器</text>
<text x="627.8" y="654">智能测控仪表</text>
<text x="540.8" y="725.8">变压器温控仪</text>
<text x="639" y="725.8">直流屏</text>
<text x="54.6" y="601.7">屋顶光伏/风力发电</text>
<text x="65.3" y="716">电力公司进线</text>
<text x="183" y="656.4">智能楼宇配变电室</text>
<text x="270.8" y="609.4">用电监测</text>
</g>
</svg>
</body></html>
